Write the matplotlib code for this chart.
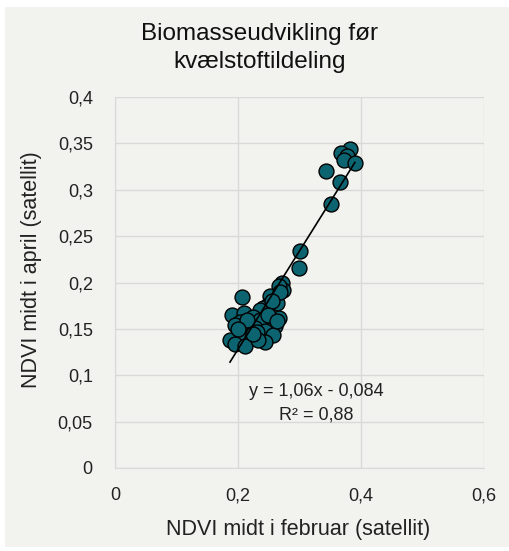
import matplotlib
matplotlib.use("Agg")
import matplotlib.pyplot as plt
import numpy as np

plt.rcParams['font.family'] = ['Liberation Sans', 'DejaVu Sans']

# NDVI mid February (x) and mid April (y)
ndvi_feb = [0.382, 0.368, 0.378, 0.373, 0.390, 0.343, 0.366, 0.352, 0.301, 0.299,
            0.271, 0.273, 0.266, 0.207, 0.252, 0.263, 0.249, 0.241, 0.236, 0.190,
            0.209, 0.225, 0.236, 0.266, 0.203, 0.195, 0.217, 0.228, 0.260, 0.244,
            0.209, 0.222, 0.257, 0.187, 0.195, 0.211, 0.244, 0.268, 0.256, 0.231,
            0.214, 0.200, 0.248, 0.233, 0.263, 0.225]
ndvi_apr = [0.344, 0.340, 0.336, 0.332, 0.329, 0.320, 0.308, 0.285, 0.234, 0.216,
            0.199, 0.192, 0.196, 0.184, 0.185, 0.178, 0.176, 0.172, 0.170, 0.165,
            0.167, 0.163, 0.160, 0.162, 0.157, 0.154, 0.154, 0.151, 0.153, 0.148,
            0.142, 0.140, 0.143, 0.138, 0.134, 0.132, 0.136, 0.190, 0.180, 0.147,
            0.160, 0.150, 0.165, 0.138, 0.158, 0.145]

# linear trendline as printed on the chart
slope = 1.06
intercept = -0.084

xticks = [0, 0.2, 0.4, 0.6]
yticks = [0, 0.05, 0.1, 0.15, 0.2, 0.25, 0.3, 0.35, 0.4]

bg = '#f2f2ee'
fig = plt.figure(figsize=(5.10, 5.51), dpi=100)
fig.patch.set_facecolor('white')
fig.patches.append(plt.Rectangle((5 / 510, 1 - 547 / 551), 505 / 510, 540 / 551,
                                 transform=fig.transFigure, facecolor=bg,
                                 edgecolor='none', zorder=-10))

ax = fig.add_axes([115 / 510, 1 - 468 / 551, 369 / 510, 371 / 551])
ax.set_facecolor(bg)
ax.set_xlim(0, 0.6)
ax.set_ylim(0, 0.4)
ax.set_xticks(xticks)
ax.set_yticks(yticks)
ax.set_xticklabels([f'{t:g}'.replace('.', ',') for t in xticks])
ax.set_yticklabels([f'{t:g}'.replace('.', ',') for t in yticks])
ax.tick_params(length=0, labelsize=13, colors='#222222')
ax.tick_params(axis='x', pad=14)
ax.tick_params(axis='y', pad=16)
ax.grid(True, color='#d9d9d9', linewidth=1)
ax.set_axisbelow(True)
for side in ['top', 'right']:
    ax.spines[side].set_visible(False)
for side in ['left', 'bottom']:
    ax.spines[side].set_color('#d9d9d9')

ax.scatter(ndvi_feb, ndvi_apr, s=115, color='#0d6471', edgecolors='black',
           linewidths=1, zorder=3)

xf = np.array([min(ndvi_feb), max(ndvi_feb)])
ax.plot(xf, slope * xf + intercept, color='black', linewidth=1.2, zorder=4)

ax.text(0.327, 0.070, 'y = 1,06x - 0,084\nR² = 0,88', ha='center', va='center',
        fontsize=13, color='#222222', linespacing=1.5)

fig.text(298 / 510, 1 - 530 / 551, 'NDVI midt i februar (satellit)', ha='center',
         va='center', fontsize=15.5, color='#222222')
fig.text(32 / 510, 1 - 270 / 551, 'NDVI midt i april (satellit)', ha='center',
         va='center', rotation=90, fontsize=15.5, color='#222222')
fig.text(260 / 510, 1 - 48 / 551, 'Biomasseudvikling før\nkvælstoftildeling',
         ha='center', va='center', fontsize=17.5, color='#111111', linespacing=1.35)

fig.savefig('out.png', dpi=100, facecolor='white')
